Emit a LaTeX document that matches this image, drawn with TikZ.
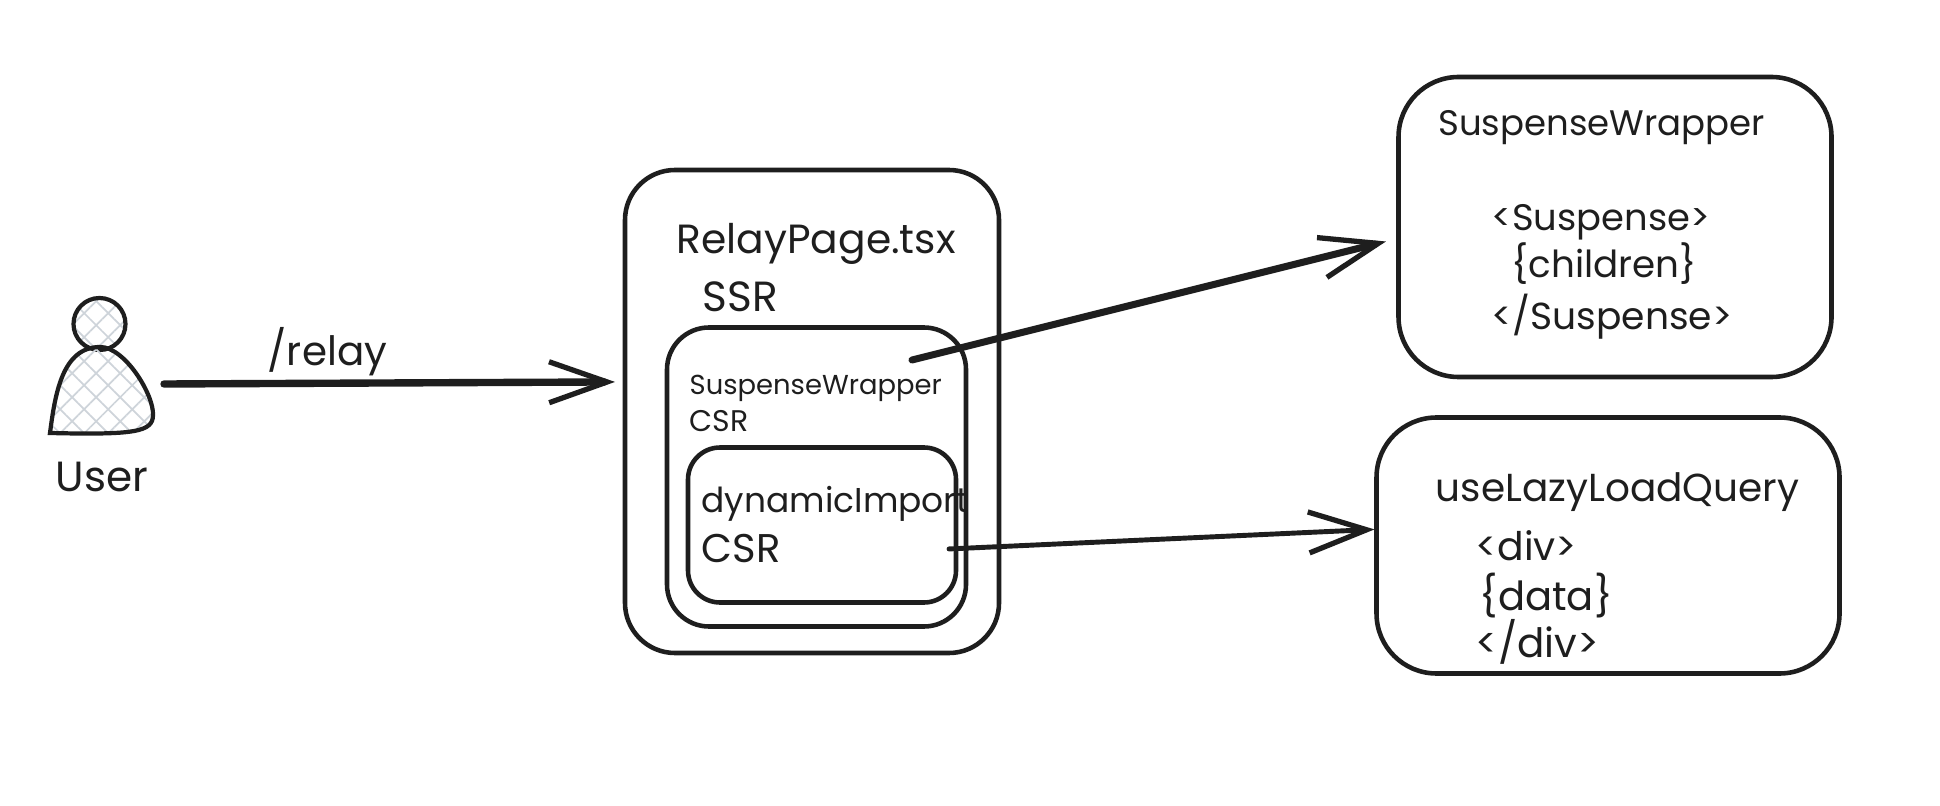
\documentclass[tikz,border=0pt]{standalone}
\usepackage{fontspec}
\setmainfont{Poppins}
\usepackage{xcolor}
\usetikzlibrary{arrows.meta}
\usetikzlibrary{patterns.meta}
\definecolor{ink}{HTML}{1E1E1E}
\definecolor{hatch}{HTML}{CED4DA}
\tikzset{card/.style={rectangle, draw=ink, line width=1.3pt, outer sep=0cm}}
\tikzset{tag/.style={anchor=west, inner sep=0cm, text=ink, font=\fontsize{#1}{12}\selectfont}, tag/.default=10.5}
\tikzset{crossed/.style={draw=ink, line width=1.2pt, pattern={Hatch[angle=45, distance=0.17cm, line width=0.5pt]}, pattern color=hatch}}
\tikzset{flow/.style={draw=ink, line width=#1, line cap=round, -{Straight Barb[length=0.58cm, width=0.41cm, line width=1.5pt]}}, flow/.default=1.4pt}

\begin{document}
\begin{tikzpicture}
		\useasboundingbox (0,0) rectangle (19.4,-8.06);

		\node[circle, crossed, minimum width=0.52cm, inner sep=0cm] at (0.995,-3.24) (head) {};
		\draw[crossed] (0.50,-4.33) .. controls (0.55,-3.95) and (0.62,-3.47) .. (1.0,-3.47) .. controls (1.25,-3.47) and (1.54,-3.95) .. (1.53,-4.15) .. controls (1.53,-4.32) and (1.35,-4.35) .. (0.50,-4.33) -- cycle;
		\node[tag=12] at (0.55,-4.77) (user) {User};
		\coordinate (user-out) at (1.64,-3.84);
		\node[tag=11.5] at (2.67,-3.52) (relay) {/relay};

		\node[card, rounded corners=0.5cm, minimum width=3.74cm, minimum height=4.83cm] at (8.12,-4.115) (page) {};
		\node[tag=11.6] at (6.76,-2.44) (page-name) {RelayPage.tsx};
		\node[tag=12] at (7.02,-2.97) (page-ssr) {SSR};
		\node[card, rounded corners=0.42cm, minimum width=2.99cm, minimum height=2.99cm] at (8.165,-4.77) (wrap) {};
		\node[tag=7.8] at (6.89,-3.88) (wrap-name) {SuspenseWrapper};
		\node[tag=8.5] at (6.89,-4.21) (wrap-csr) {CSR};
		\node[card, rounded corners=0.32cm, minimum width=2.68cm, minimum height=1.55cm] at (8.22,-5.25) (import) {};
		\node[tag=9.8] at (7.01,-5.04) (import-name) {dynamicImport};
		\node[tag=11.4] at (7.01,-5.48) (import-csr) {CSR};
		\coordinate (wrap-out) at (9.12,-3.60);

		\node[card, rounded corners=0.6cm, minimum width=4.33cm, minimum height=3.00cm] at (16.15,-2.27) (wrapper) {};
		\node[tag=10.1] at (14.375,-1.28) (wrapper-name) {SuspenseWrapper};
		\node[tag] at (14.91,-2.22) (wrapper-open) {<Suspense>};
		\node[tag=10.6] at (15.11,-2.64) (wrapper-kids) {\{children\}};
		\node[tag=10.7] at (14.91,-3.17) (wrapper-close) {</Suspense>};

		\node[card, rounded corners=0.6cm, minimum width=4.63cm, minimum height=2.56cm] at (16.08,-5.455) (lazy) {};
		\node[tag=11.1] at (14.35,-4.92) (lazy-name) {useLazyLoadQuery};
		\node[tag=11.2] at (14.75,-5.46) (lazy-open) {<div>};
		\node[tag=11.4] at (14.79,-5.96) (lazy-data) {\{data\}};
		\node[tag=11.5] at (14.75,-6.42) (lazy-close) {</div>};

		\draw[flow=2.1pt, shorten >=0.10cm] (user-out) -- (page.171);
		\draw[flow=2pt, shorten >=0.13cm] (wrap-out) -- (wrapper.183.6);
		\draw[flow, shorten <=-0.07cm, shorten >=0.02cm] (import.-10) -- (lazy.176.4);
\end{tikzpicture}
\end{document}
